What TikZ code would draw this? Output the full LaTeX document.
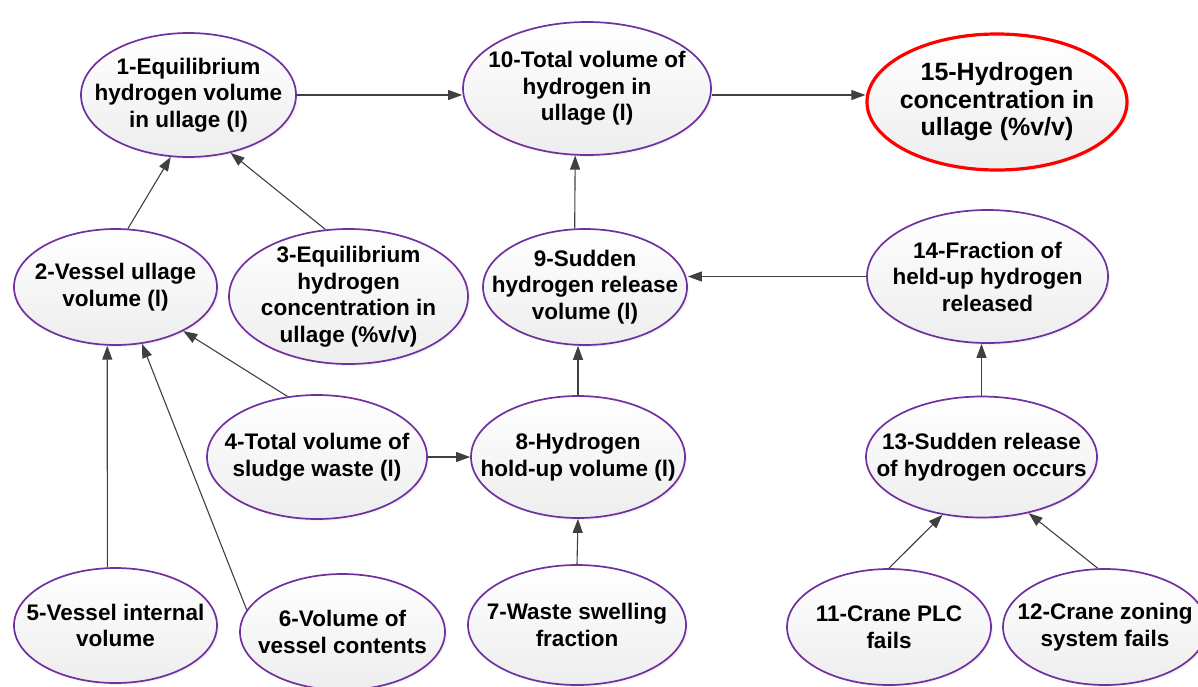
\documentclass[tikz,border=0pt]{standalone}
\usepackage{fontspec}
\setmainfont{Liberation Sans}
\usetikzlibrary{shapes.geometric,arrows.meta,shadows}
\definecolor{varpurple}{HTML}{7030A0}
\definecolor{linkgray}{HTML}{404040}
\tikzset{
	var/.style={ellipse, draw=varpurple, line width=1.7pt, top color=white, bottom color=black!7,
		drop shadow={opacity=0.1, shadow xshift=2pt, shadow yshift=-2pt}, inner sep=0pt},
	vartext/.style={font=\bfseries\fontsize{22.5}{26.5}\selectfont, align=center, text=black},
	goal/.style={var, draw=red, line width=3.2pt},
	goaltext/.style={font=\bfseries\fontsize{25}{27.5}\selectfont, align=center, text=black},
	link/.style={draw=linkgray, line width=1.1pt, -{Triangle[length=14pt,width=10pt]}}
}
\begin{document}
\begin{tikzpicture}[x=1pt, y=-1pt]
	\useasboundingbox (0,0) rectangle (1198,686);
	\node[var, minimum width=215pt, minimum height=124pt, label={[vartext]center:{1-Equilibrium\\hydrogen volume\\in ullage (l)}}] (n1) at (188.5,95) {};
	\node[var, minimum width=248pt, minimum height=133pt, label={[vartext]center:{10-Total volume of\\hydrogen in\\ullage (l)}}] (n10) at (587,88.5) {};
	\node[goal, minimum width=260pt, minimum height=136pt, label={[goaltext]center:{15-Hydrogen\\concentration in\\ullage (\%v/v)}}] (n15) at (997,102) {};
	\node[var, minimum width=203pt, minimum height=116pt, label={[vartext]center:{2-Vessel ullage\\volume (l)}}] (n2) at (115.5,287) {};
	\node[var, minimum width=239pt, minimum height=135pt, label={[vartext]center:{3-Equilibrium\\hydrogen\\concentration in\\ullage (\%v/v)}}] (n3) at (348.5,296.5) {};
	\node[var, minimum width=204pt, minimum height=116pt, label={[vartext]center:{9-Sudden\\hydrogen release\\volume (l)}}] (n9) at (585,287) {};
	\node[var, minimum width=241pt, minimum height=133pt, label={[vartext]center:{14-Fraction of\\held-up hydrogen\\released}}] (n14) at (987.5,276.5) {};
	\node[var, minimum width=220pt, minimum height=124pt, label={[vartext]center:{4-Total volume of\\sludge waste (l)}}] (n4) at (317,457) {};
	\node[var, minimum width=214pt, minimum height=122pt, label={[vartext]center:{8-Hydrogen\\hold-up volume (l)}}] (n8) at (578,457) {};
	\node[var, minimum width=231pt, minimum height=121pt, label={[vartext]center:{13-Sudden release\\of hydrogen occurs}}] (n13) at (981.5,457) {};
	\node[var, minimum width=203pt, minimum height=115pt, label={[vartext]center:{5-Vessel internal\\volume}}] (n5) at (115.5,625.5) {};
	\node[var, minimum width=205pt, minimum height=116pt, label={[vartext]center:{6-Volume of\\vessel contents}}] (n6) at (342.5,632) {};
	\node[var, minimum width=218pt, minimum height=120pt, label={[vartext]center:{7-Waste swelling\\fraction}}] (n7) at (577,625) {};
	\node[var, minimum width=204pt, minimum height=116pt, label={[vartext]center:{11-Crane PLC\\fails}}] (n11) at (889,627) {};
	\node[var, minimum width=204pt, minimum height=116pt, label={[vartext]center:{12-Crane zoning\\system fails}}] (n12) at (1105,627) {};

	\draw[link] (n1.east) -- (n1.east -| n10.west);
	\draw[link] (n10.east |- n1.east) -- (n1.east -| n15.west);
	\draw[link] (n2.78) -- (n1.254);
	\draw[link] (n3.109) -- (n1.306);
	\draw[link] (n9.100) -- (n10.260);
	\draw[link] (n14.west) -- (n14.west -| n9.east);
	\draw[link] (n4.116) -- (n2.327);
	\draw[link] (n5.98) -- (n2.262);
	\draw[link] (n6.167) -- (n2.295);
	\draw[link] (n4.east) -- (n8.west);
	\draw[link] (n8.north) -- (n8.north |- n9.south);
	\draw[link] (n7.north) -- (n8.south);
	\draw[link] (n13.north) -- (n13.north |- n14.south);
	\draw[link] (n11.north) -- (n13.236);
	\draw[link] (n12.97) -- (n13.310);
\end{tikzpicture}
\end{document}
